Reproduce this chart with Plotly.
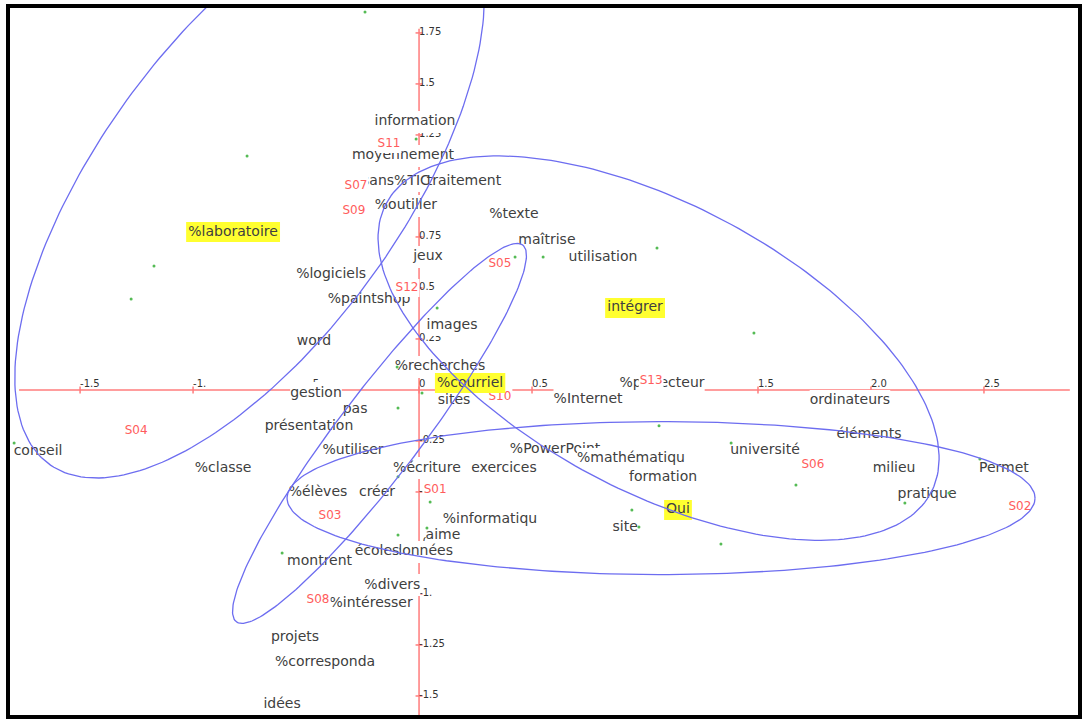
import numpy as np
import plotly.graph_objects as go

# ---------------- data ----------------
WORDS = ["information", "moyennement", "sans%TIC", "traitement", "%outiller", "%texte",
         "maîtrise", "utilisation", "jeux", "%logiciels", "%paintshop", "images", "word",
         "%recherches", "sites", "gestion", "pas", "présentation", "%utiliser", "%classe",
         "conseil", "%écriture", "exercices", "%PowerPoint", "formation", "université",
         "ordinateurs", "éléments", "milieu", "pratique", "Permet", "%Internet", "%projecteur",
         "%informatiqu", "aime", "données", "montrent", "%divers", "%intéresser", "projets",
         "%corresponda", "idées", "%élèves", "créer", "site"]
WORD_X = [-0.018, -0.071, -0.102, 0.199, -0.058, 0.420,
          0.566, 0.814, 0.040, -0.389, -0.221, 0.146, -0.465,
          0.093, 0.155, -0.456, -0.283, -0.487, -0.292, -0.867,
          -1.686, 0.035, 0.376, 0.602, 1.080, 1.531,
          1.907, 1.991, 2.102, 2.248, 2.588, 0.748, 1.075,
          0.314, 0.106, 0.018, -0.440, -0.118, -0.212, -0.549,
          -0.416, -0.606, -0.447, -0.186, 0.912]
WORD_Y = [1.314, 1.147, 1.024, 1.024, 0.902, 0.858,
          0.735, 0.647, 0.652, 0.568, 0.441, 0.318, 0.240,
          0.113, -0.054, -0.015, -0.098, -0.177, -0.299, -0.383,
          -0.304, -0.383, -0.383, -0.294, -0.427, -0.299,
          -0.054, -0.216, -0.387, -0.510, -0.383, -0.049, 0.034,
          -0.633, -0.711, -0.794, -0.843, -0.956, -1.049, -1.211,
          -1.334, -1.544, -0.505, -0.505, -0.672]

TOP_WORDS = ["%mathématiqu", "écoles"]
TOP_WORD_X = [0.938, -0.186]
TOP_WORD_Y = [-0.338, -0.794]

S_LABELS = ["S11", "S07", "S09", "S12", "S05", "S10", "S13", "S04", "S01", "S03", "S08", "S06", "S02"]
S_X = [-0.133, -0.279, -0.288, -0.053, 0.358, 0.358, 1.027, -1.252, 0.071, -0.394, -0.447, 1.743, 2.659]
S_Y = [1.206, 1.000, 0.877, 0.500, 0.618, -0.034, 0.044, -0.201, -0.490, -0.618, -1.030, -0.368, -0.574]

HL_WORDS = ["%laboratoire", "intégrer", "Oui", "%courriel"]
HL_X = [-0.823, 0.956, 1.146, 0.226]
HL_Y = [0.774, 0.402, -0.588, 0.034]

DOT_X = [-0.239, -0.761, -1.173, -1.274, -0.013, 0.425, 0.549, 1.053, 1.482, 0.080,
         -0.097, 0.013, -0.093, -0.093, 0.049, 0.035, -0.093, -0.606, 1.062, 1.381,
         0.942, 0.973, 1.336, 1.668, 2.150, 2.345, 2.482, -1.792]
DOT_Y = [1.853, 1.147, 0.608, 0.446, 1.230, 0.652, 0.652, 0.696, 0.279, 0.402,
         0.113, -0.015, -0.088, -0.426, -0.549, -0.676, -0.711, -0.799, -0.176, -0.260,
         -0.588, -0.672, -0.755, -0.466, -0.554, -0.505, -0.338, -0.260]

# ellipses: centre, semi-axes, rotation (degrees)
ELL_CX = [-0.750, 1.060, -0.175, 1.071]
ELL_CY = [0.990, 0.205, -0.213, -0.530]
ELL_A = [1.620, 1.400, 1.120, 1.655]
ELL_B = [0.690, 0.685, 0.190, 0.375]
ELL_ANGLE = [58.0, -32.0, 55.7, 0.0]

X_TICKS = [-1.5, -1.0, -0.5, 0.0, 0.5, 1.0, 1.5, 2.0, 2.5]
X_TICK_LABELS = ["-1.5", "-1.", "-.5", "0", "0.5", "1.", "1.5", "2.0", "2.5"]
Y_TICKS = [1.75, 1.5, 1.25, 1.0, 0.75, 0.5, 0.25, -0.25, -0.5, -0.75, -1.0, -1.25, -1.5]
Y_TICK_LABELS = ["1.75", "1.5", "1.25", "1.", "0.75", "0.5", "0.25", "-0.25", "-0.5",
                 "-0.75", "-1.", "-1.25", "-1.5"]
X_AXIS_EXTENT = [-1.77, 2.88]
Y_AXIS_EXTENT = [-1.60, 1.77]

X_RANGE = [-1.819, 2.925]
Y_RANGE = [-1.603, 1.882]

# ---------------- style ----------------
W, H = 1086, 719
MARGIN = dict(l=8, r=6, t=6, b=2)
RED = "#ff7c7c"
BLUE = "#6d6df0"
TEXT = "#404040"
SRED = "#ff5c5c"
YELLOW = "#ffff30"
GREEN = "#55bb55"
FONT = "DejaVu Sans"

PXX = (W - MARGIN["l"] - MARGIN["r"]) / (X_RANGE[1] - X_RANGE[0])
PXY = (H - MARGIN["t"] - MARGIN["b"]) / (Y_RANGE[1] - Y_RANGE[0])

CHAR_W = {"a": 0.613, "b": 0.635, "c": 0.55, "d": 0.635, "e": 0.615, "é": 0.615, "è": 0.615,
          "f": 0.352, "g": 0.635, "h": 0.634, "i": 0.278, "î": 0.278, "j": 0.278, "k": 0.579,
          "l": 0.278, "m": 0.974, "n": 0.634, "o": 0.612, "p": 0.635, "q": 0.635, "r": 0.411,
          "s": 0.521, "t": 0.392, "u": 0.634, "v": 0.592, "w": 0.818, "x": 0.592, "y": 0.592,
          "%": 0.95, "P": 0.603, "T": 0.611, "I": 0.295, "C": 0.698, "O": 0.787, "S": 0.635,
          ".": 0.318, " ": 0.318, "-": 0.361}


def text_w(s, size):
    return sum(CHAR_W.get(ch, 0.636) for ch in s) * size


def box_trace(labels, xs, ys, size, pad, half_h, color):
    bx, by = [], []
    for s, x, y in zip(labels, xs, ys):
        hw = (text_w(s, size) / 2 + pad) / PXX
        hh = half_h / PXY
        bx += [x - hw, x + hw, x + hw, x - hw, x - hw, None]
        by += [y - hh, y - hh, y + hh, y + hh, y - hh, None]
    return go.Scatter(x=bx, y=by, mode="none", fill="toself", fillcolor=color,
                      hoverinfo="skip", showlegend=False)


def text_trace(labels, xs, ys, size, color):
    return go.Scatter(x=xs, y=ys, mode="text", text=labels, textposition="middle center",
                      textfont=dict(family=FONT, size=size, color=color),
                      hoverinfo="skip", showlegend=False)


fig = go.Figure()

# axes
fig.add_trace(go.Scatter(x=X_AXIS_EXTENT, y=[0, 0], mode="lines", line=dict(color=RED, width=1.5),
                         hoverinfo="skip", showlegend=False))
fig.add_trace(go.Scatter(x=[0, 0], y=Y_AXIS_EXTENT, mode="lines", line=dict(color=RED, width=1.5),
                         hoverinfo="skip", showlegend=False))
fig.add_trace(go.Scatter(x=X_TICKS, y=[0] * len(X_TICKS), mode="markers",
                         marker=dict(symbol="line-ns", size=5, line=dict(color=RED, width=1.5)),
                         hoverinfo="skip", showlegend=False))
fig.add_trace(go.Scatter(x=[0] * len(Y_TICKS), y=Y_TICKS, mode="markers",
                         marker=dict(symbol="line-ew", size=5, line=dict(color=RED, width=1.5)),
                         hoverinfo="skip", showlegend=False))
fig.add_trace(go.Scatter(x=X_TICKS, y=[0] * len(X_TICKS), mode="text", text=X_TICK_LABELS,
                         textposition="top right", textfont=dict(family=FONT, size=10, color="#333"),
                         hoverinfo="skip", showlegend=False))
fig.add_trace(go.Scatter(x=[0] * len(Y_TICKS), y=Y_TICKS, mode="text", text=Y_TICK_LABELS,
                         textposition="middle right", textfont=dict(family=FONT, size=10, color="#333"),
                         hoverinfo="skip", showlegend=False))

# labels with opaque boxes
fig.add_trace(box_trace(WORDS, WORD_X, WORD_Y, 14, 0, 11, "white"))
fig.add_trace(text_trace(WORDS, WORD_X, WORD_Y, 14, TEXT))
fig.add_trace(box_trace(TOP_WORDS, TOP_WORD_X, TOP_WORD_Y, 14, 0, 11, "white"))
fig.add_trace(text_trace(TOP_WORDS, TOP_WORD_X, TOP_WORD_Y, 14, TEXT))
fig.add_trace(box_trace(S_LABELS, S_X, S_Y, 12, 1, 9, "white"))
fig.add_trace(text_trace(S_LABELS, S_X, S_Y, 12, SRED))
fig.add_trace(box_trace(HL_WORDS, HL_X, HL_Y, 14, 2, 10, YELLOW))
fig.add_trace(text_trace(HL_WORDS, HL_X, HL_Y, 14, TEXT))

# points
fig.add_trace(go.Scatter(x=DOT_X, y=DOT_Y, mode="markers", marker=dict(color=GREEN, size=3),
                         hoverinfo="skip", showlegend=False))

# ellipses
t = np.linspace(0, 2 * np.pi, 240)
for cx, cy, a, b, ang in zip(ELL_CX, ELL_CY, ELL_A, ELL_B, ELL_ANGLE):
    th = np.radians(ang)
    ex = cx + a * np.cos(t) * np.cos(th) - b * np.sin(t) * np.sin(th)
    ey = cy + a * np.cos(t) * np.sin(th) + b * np.sin(t) * np.cos(th)
    fig.add_trace(go.Scatter(x=ex, y=ey, mode="lines", line=dict(color=BLUE, width=1.3),
                             hoverinfo="skip", showlegend=False))

fig.update_layout(
    width=W, height=H, margin=MARGIN,
    paper_bgcolor="white", plot_bgcolor="white",
    xaxis=dict(range=X_RANGE, visible=False, fixedrange=True),
    yaxis=dict(range=Y_RANGE, visible=False, fixedrange=True),
    shapes=[dict(type="rect", xref="paper", yref="paper", x0=0, y0=0, x1=1, y1=1,
                 line=dict(color="black", width=4), layer="above")],
)

fig.write_html("out.html", config={"displayModeBar": False},
               post_script="document.body.style.margin='0px';document.body.style.overflow='hidden';")
